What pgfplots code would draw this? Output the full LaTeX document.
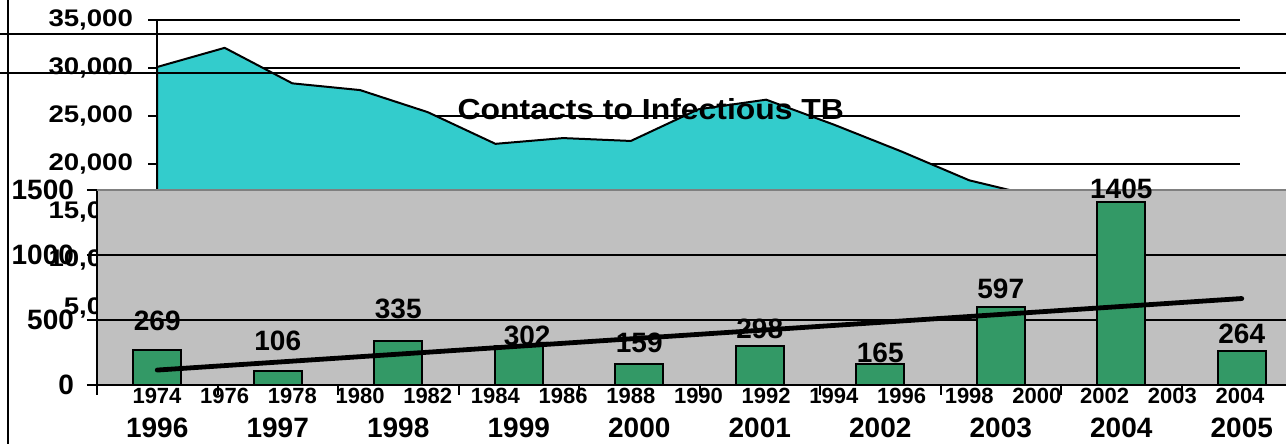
\documentclass[border=0pt]{standalone}
\usepackage{fontspec}
\setmainfont{Liberation Sans}
\newfontfamily\bgfont[FakeStretch=1.15]{Liberation Sans}
\newfontfamily\ttlfont[FakeStretch=1.1]{Liberation Sans}
\usepackage{pgfplots}
\pgfplotsset{compat=1.18}
\definecolor{areacyan}{HTML}{33CCCC}
\definecolor{bargreen}{HTML}{339966}
\definecolor{panelgray}{HTML}{C0C0C0}
\definecolor{edgegray}{HTML}{808080}
\begin{document}
\begin{tikzpicture}
\useasboundingbox (0,0) rectangle (643pt,222pt);
% ---------- background chart: contacts to infectious TB ----------
\begin{axis}[
  at={(78.5pt,44pt)}, anchor=south west, scale only axis,
  width=541.5pt, height=168pt,
  xmin=0, xmax=16, ymin=0, ymax=35000,
  scaled y ticks=false,
  axis x line*=bottom, axis y line*=left,
  axis line style={-, black, line width=1pt},
  ytick={0,5000,10000,15000,20000,25000,30000,35000},
  yticklabels={0,{5,000},{10,000},{15,000},{20,000},{25,000},{30,000},{35,000}},
  ymajorgrids, grid style={black, line width=1pt},
  tick align=outside, major tick length=4.5pt,
  y tick style={black, line width=1pt},
  yticklabel style={font=\bgfont\bfseries\fontsize{12}{12}\selectfont, anchor=east, xshift=-4pt},
  xtick={0,...,16},
  xticklabels={1974,1976,1978,1980,1982,1984,1986,1988,1990,1992,1994,1996,1998,2000,2002,2003,2004},
  x tick style={draw=none},
  xticklabel style={font=\bfseries\fontsize{11}{11}\selectfont, anchor=north, yshift=-8pt},
  title={Contacts to Infectious TB},
  title style={at={(0.456,0.735)}, anchor=center, yshift=-6pt, font=\ttlfont\bfseries\fontsize{14.5}{14.5}\selectfont},
]
\addplot[fill=areacyan, draw=black, line width=1pt] coordinates {
  (0,30100) (1,32100) (2,28400) (3,27700) (4,25400) (5,22100) (6,22700) (7,22400)
  (8,25700) (9,26700) (10,24100) (11,21300) (12,18300) (13,16600) (14,15800) (15,15200) (16,14800)
} \closedcycle;
\end{axis}
% ---------- foreground chart: bars 1996-2005 ----------
\begin{axis}[
  at={(48.5pt,29.5pt)}, anchor=south west, scale only axis,
  width=594.5pt, height=97.5pt,
  xmin=-0.5, xmax=9.367, ymin=0, ymax=1500,
  clip=false,
  axis x line*=bottom, axis y line*=left,
  axis line style={-, black, line width=1pt},
  axis background/.style={fill=panelgray},
  ytick={0,500,1000,1500}, yticklabels={0,500,1000,1500},
  ymajorgrids, grid style={black, line width=1pt},
  tick align=outside, major tick length=5pt, minor tick length=5pt,
  y tick style={black, line width=1pt},
  yticklabel style={font=\bfseries\fontsize{14}{14}\selectfont, anchor=east, xshift=-3pt},
  xtick={0,...,9},
  xticklabels={1996,1997,1998,1999,2000,2001,2002,2003,2004,2005},
  major x tick style={draw=none},
  minor xtick={-0.5,0.5,1.5,2.5,3.5,4.5,5.5,6.5,7.5,8.5},
  minor x tick style={black, line width=1pt},
  xticklabel style={font=\bfseries\fontsize{14}{14}\selectfont, anchor=north, yshift=-8pt},
]
\addplot[ybar, bar width=24pt, fill=bargreen, draw=black, line width=1pt] coordinates {
  (0,269) (1,106) (2,335) (3,302) (4,159) (5,298) (6,165) (7,597) (8,1405) (9,264)
};
\addplot[black, line width=2.4pt, line cap=round] coordinates {(0,114.9) (9,665.1)};
\addplot[draw=none, mark=none, nodes near coords, point meta=explicit symbolic,
  nodes near coords style={anchor=center, font=\bfseries\fontsize{14}{14}\selectfont, inner sep=0pt}]
  coordinates {
  (0,492)[269] (1,338)[106] (2,585)[335] (3.07,377)[302] (4,323)[159]
  (5,431)[298] (6,246)[165] (7,738)[597] (8,1508)[1405] (9,392)[264]
};
\draw[edgegray, line width=1pt] (rel axis cs:0,1) -- (rel axis cs:1,1);
\end{axis}
% ---------- frame lines ----------
\draw[black, line width=1.2pt] (0,205pt) -- (643pt,205pt);
\draw[black, line width=1.2pt] (0,185.5pt) -- (643pt,185.5pt);
\draw[black, line width=1pt] (4pt,0) -- (4pt,222pt);
\end{tikzpicture}
\end{document}
